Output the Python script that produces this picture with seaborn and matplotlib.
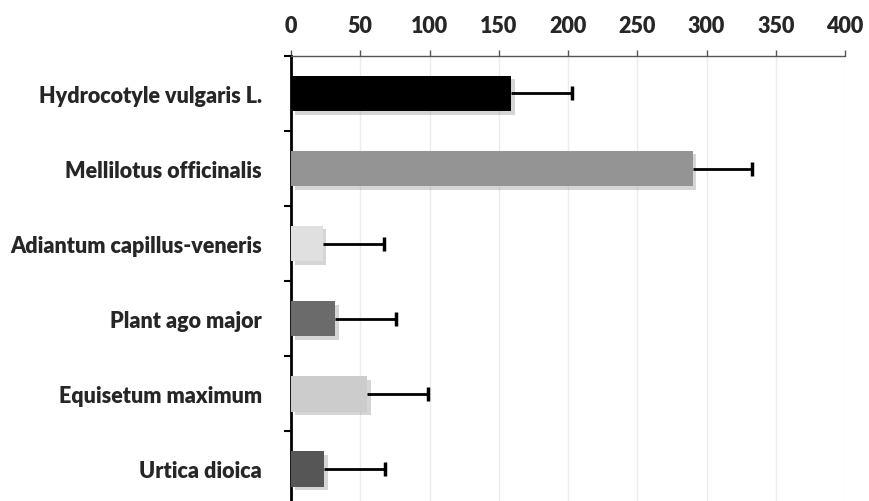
import matplotlib
matplotlib.use("Agg")
import matplotlib.pyplot as plt
import matplotlib.patheffects as pe
import seaborn as sns
import numpy as np
import pandas as pd

# data
species = ["Hydrocotyle vulgaris L.", "Mellilotus officinalis", "Adiantum capillus-veneris",
           "Plant ago major", "Equisetum maximum", "Urtica dioica"]
values = [159, 290, 23, 32, 55, 24]
errors = [44, 43, 44, 44, 44, 44]
colors = ["#000000", "#949494", "#e0e0e0", "#6b6b6b", "#cccccc", "#565656"]
xticks = [0, 50, 100, 150, 200, 250, 300, 350, 400]

sns.set_style("white")
plt.rcParams['font.family'] = ['Lato', 'DejaVu Sans']
plt.rcParams['font.weight'] = 800

df = pd.DataFrame({"species": species, "value": values})

fig = plt.figure(figsize=(8.69, 5.02), dpi=100)
ax = fig.add_axes([0.3349, -0.011, 0.6375, 0.8976])

sns.barplot(data=df, x="value", y="species", hue="species", palette=colors,
            orient="h", width=0.47, legend=False, ax=ax, linewidth=0, zorder=3)

# soft drop shadow under the bars
for p in ax.patches:
    p.set_path_effects([pe.SimplePatchShadow(offset=(2.5, -2.5), shadow_rgbFace="#888888", alpha=0.35),
                        pe.Normal()])

# one-sided error bars (line from bar end + cap)
ypos = np.arange(len(species))
ends = np.array(values) + np.array(errors)
ax.hlines(ypos, values, ends, color="black", linewidth=2, zorder=4)
ax.plot(ends, ypos, linestyle="none", marker="|", markersize=10, markeredgewidth=2.5,
        color="black", zorder=4)

ax.set_xlim(0, 400)
ax.set_ylim(len(species) - 0.5, -0.5)
ax.set_xticks(xticks)
ax.xaxis.tick_top()
ax.set_xlabel("")
ax.set_ylabel("")
ax.grid(axis="x", color="#ececec", linewidth=1, zorder=0)
ax.set_axisbelow(True)

ax.tick_params(axis="x", top=True, direction="out", length=4, width=1, color="#555555",
               pad=10, labelsize=15.5)
ax.tick_params(axis="y", which="major", length=0, pad=21, labelsize=15.5)
ax.set_yticks(np.arange(-0.5, len(species), 1.0), minor=True)
ax.tick_params(axis="y", which="minor", left=True, length=5, width=1.5, color="black")

for side in ["right", "bottom"]:
    ax.spines[side].set_visible(False)
ax.spines["top"].set_color("#555555")
ax.spines["top"].set_linewidth(1)
ax.spines["left"].set_color("black")
ax.spines["left"].set_linewidth(2)

fig.savefig("out.png", dpi=100)
